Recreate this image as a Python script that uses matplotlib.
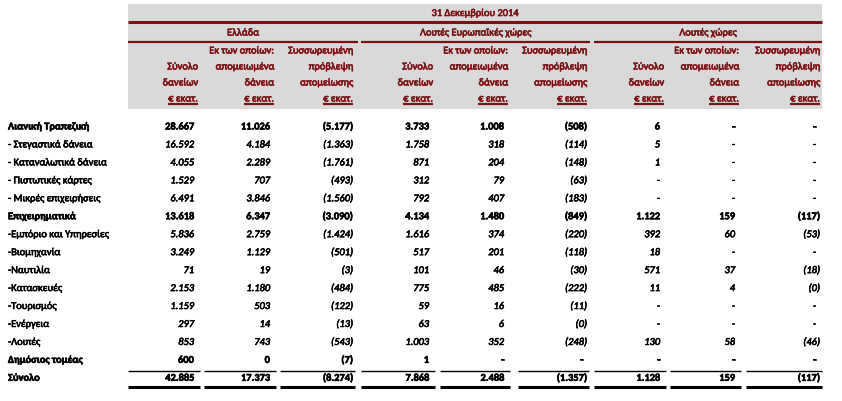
import matplotlib
matplotlib.use("Agg")
import matplotlib.pyplot as plt
import matplotlib.patheffects as pe

plt.rcParams['font.family'] = ['Carlito', 'DejaVu Sans']

title = "31 Δεκεμβρίου 2014"
groups = ["Ελλάδα", "Λοιπές Ευρωπαϊκές χώρες", "Λοιπές χώρες"]
col_headers = [
    ["", "Σύνολο", "δανείων", "€ εκατ."],
    ["Εκ των οποίων:", "απομειωμένα", "δάνεια", "€ εκατ."],
    ["Συσσωρευμένη", "πρόβλεψη", "απομείωσης", "€ εκατ."],
]

rows = ["Λιανική Τραπεζική", "- Στεγαστικά δάνεια", "- Καταναλωτικά δάνεια",
        "- Πιστωτικές κάρτες", "- Μικρές επιχειρήσεις", "Επιχειρηματικά",
        "-Εμπόριο και Υπηρεσίες", "-Βιομηχανία", "-Ναυτιλία", "-Κατασκευές",
        "-Τουρισμός", "-Ενέργεια", "-Λοιπές", "Δημόσιος τομέας", "Σύνολο"]
bold_rows = [0, 5, 13, 14]

gr_loans = ["28.667", "16.592", "4.055", "1.529", "6.491", "13.618", "5.836", "3.249",
            "71", "2.153", "1.159", "297", "853", "600", "42.885"]
gr_impaired = ["11.026", "4.184", "2.289", "707", "3.846", "6.347", "2.759", "1.129",
               "19", "1.180", "503", "14", "743", "0", "17.373"]
gr_prov = ["(5.177)", "(1.363)", "(1.761)", "(493)", "(1.560)", "(3.090)", "(1.424)", "(501)",
           "(3)", "(484)", "(122)", "(13)", "(543)", "(7)", "(8.274)"]
eu_loans = ["3.733", "1.758", "871", "312", "792", "4.134", "1.616", "517",
            "101", "775", "59", "63", "1.003", "1", "7.868"]
eu_impaired = ["1.008", "318", "204", "79", "407", "1.480", "374", "201",
               "46", "485", "16", "6", "352", "-", "2.488"]
eu_prov = ["(508)", "(114)", "(148)", "(63)", "(183)", "(849)", "(220)", "(118)",
           "(30)", "(222)", "(11)", "(0)", "(248)", "-", "(1.357)"]
ot_loans = ["6", "5", "1", "-", "-", "1.122", "392", "18",
            "571", "11", "-", "-", "130", "-", "1.128"]
ot_impaired = ["-", "-", "-", "-", "-", "159", "60", "-",
               "37", "4", "-", "-", "58", "-", "159"]
ot_prov = ["-", "-", "-", "-", "-", "(117)", "(53)", "-",
           "(18)", "(0)", "-", "-", "(46)", "-", "(117)"]
columns = [gr_loans, gr_impaired, gr_prov, eu_loans, eu_impaired, eu_prov,
           ot_loans, ot_impaired, ot_prov]

# layout (pixel coordinates)
W, H = 842, 401
RED = '#7b1113'
GRAY = '#d9d9d9'
seg_left = [128, 204, 280, 361, 440, 518, 594, 670, 746]
seg_right = [200, 276, 355, 435, 510, 589, 666, 741, 822]
group_span = [(128, 358), (361, 590), (594, 822)]
head_y = [51, 67, 83, 99]
row_y0, row_dy = 127, 17.95
fs = 7.5
paren_pad = 4  # positive numbers leave room for ")"


def heavy(color):
    # the source was rendered with heavier, blurrier glyphs
    return [pe.withStroke(linewidth=0.45, foreground=color)]


fig = plt.figure(figsize=(W / 100, H / 100), dpi=100)
ax = fig.add_axes([0, 0, 1, 1])
ax.set_xlim(0, W)
ax.set_ylim(H, 0)
ax.axis('off')

ax.add_patch(plt.Rectangle((128, 4), 822 - 128, 105, color=GRAY, lw=0, zorder=0))
ax.text(475, 13.5, title, ha='center', va='center', color=RED, fontsize=fs,
        path_effects=heavy(RED))
ax.plot([128, 822], [22, 22], color=RED, lw=2.2, solid_capstyle='butt')

for g, (a, b) in zip(groups, group_span):
    ax.text((a + b) / 2, 33, g, ha='center', va='center', color=RED, fontsize=fs,
            path_effects=heavy(RED))
    ax.plot([a, b], [41.8, 41.8], color=RED, lw=1.6, solid_capstyle='butt')

fig.canvas.draw()
renderer = fig.canvas.get_renderer()
for i in range(9):
    x = seg_right[i] - 2
    for line, y in zip(col_headers[i % 3], head_y):
        if not line:
            continue
        t = ax.text(x, y, line, ha='right', va='center', color=RED, fontsize=fs,
                    path_effects=heavy(RED))
        if line.startswith('€'):
            bb = t.get_window_extent(renderer)
            w = bb.width * W / fig.bbox.width
            ax.plot([x - w, x], [y + 5, y + 5], color=RED, lw=1.6,
                    solid_capstyle='butt')

for r, label in enumerate(rows):
    y = row_y0 + r * row_dy
    bold = r in bold_rows
    ax.text(8, y, label, ha='left', va='center', fontsize=fs,
            fontweight='bold' if bold else 'normal', color='black',
            path_effects=heavy('black'))
    for i, col in enumerate(columns):
        v = col[r]
        x = seg_right[i] - 2 - (0 if v.endswith(')') else paren_pad)
        ax.text(x, y, v, ha='right', va='center', fontsize=fs,
                fontweight='bold' if bold else 'normal',
                fontstyle='normal' if bold else 'italic', color='black',
                path_effects=heavy('black'))

for a, b in zip(seg_left, seg_right):
    ax.plot([a, b], [370.6, 370.6], color='black', lw=1.0, solid_capstyle='butt')
    ax.plot([a, b], [387.2, 387.2], color='black', lw=2.2, solid_capstyle='butt')

fig.savefig('out.png', dpi=100)
